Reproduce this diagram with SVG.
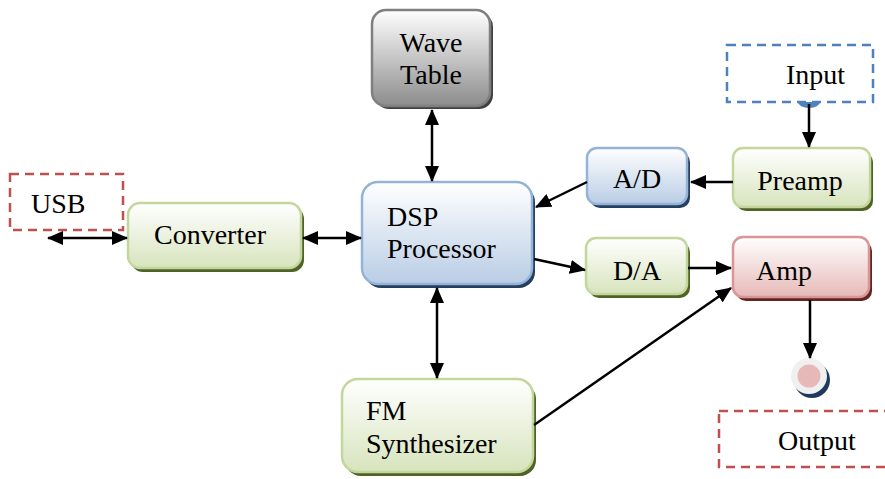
<svg xmlns="http://www.w3.org/2000/svg" width="885" height="479" viewBox="0 0 885 479">
<defs>
<linearGradient id="gGreen" x1="0" y1="0" x2="0" y2="1"><stop offset="0" stop-color="#ffffff"/><stop offset="1" stop-color="#d7e4bd"/></linearGradient>
<linearGradient id="gBlue" x1="0" y1="0" x2="0" y2="1"><stop offset="0" stop-color="#ffffff"/><stop offset="1" stop-color="#b9cde5"/></linearGradient>
<linearGradient id="gRed" x1="0" y1="0" x2="0" y2="1"><stop offset="0" stop-color="#ffffff"/><stop offset="1" stop-color="#e6b9b8"/></linearGradient>
<linearGradient id="gGray" x1="0" y1="0" x2="0" y2="1"><stop offset="0" stop-color="#ffffff"/><stop offset="1" stop-color="#8c8c8c"/></linearGradient>
<marker id="ahL" viewBox="0 0 16 14" refX="15" refY="7" markerWidth="16" markerHeight="14" markerUnits="userSpaceOnUse" orient="auto-start-reverse"><path d="M0,0 L16,7 L0,14 z" fill="#000"/></marker>
</defs>
<style>
.t{font-family:'Liberation Serif','Times New Roman','DejaVu Serif',serif;font-size:28px;fill:#000}
.green{fill:url(#gGreen);stroke:#c3d69b;stroke-width:2.5}
.greenS{fill:#4f6228}
.blue{fill:url(#gBlue);stroke:#95b3d7;stroke-width:2.5}
.blueS{fill:#243f60}
.red{fill:url(#gRed);stroke:#d99694;stroke-width:2.5}
.redS{fill:#632423}
.gray{fill:url(#gGray);stroke:#7f7f7f;stroke-width:2.5}
.grayS{fill:#404040}
.dashR{fill:none;stroke:#c0504d;stroke-width:2.5;stroke-dasharray:9,6}
.dashB{fill:none;stroke:#4f81bd;stroke-width:2.5;stroke-dasharray:9,6}
.conn{stroke:#000;stroke-width:2.5;fill:none}
</style>

<g id="usb">
<rect x="10" y="174" width="113" height="56" class="dashR"/>
<text class="t" x="31" y="213">USB</text>
</g>
<g id="input">
<rect x="727" y="45" width="146" height="57" class="dashB"/>
<path d="M798,102 A11,6 0 0 0 820,102 z" fill="#4f81bd"/>
<text class="t" x="786" y="84">Input</text>
</g>
<g id="output">
<rect x="719" y="411" width="175" height="56" class="dashR"/>
<text class="t" x="778" y="450">Output</text>
</g>
<g id="outjack">
<circle cx="812" cy="380" r="18" fill="#1f3b5c"/>
<circle cx="809" cy="376" r="18" fill="#f0f0f0"/>
<circle cx="809" cy="376" r="11.5" fill="#e6b9b8"/>
</g>

<g id="wavetable">
<rect x="375" y="13" width="118" height="96" rx="14" class="grayS"/>
<rect x="372" y="10" width="118" height="96" rx="14" class="gray"/>
<text class="t" x="431" y="52" text-anchor="middle">Wave</text>
<text class="t" x="431" y="84" text-anchor="middle">Table</text>
</g>
<g id="preamp">
<rect x="736" y="152" width="137" height="59" rx="10" class="greenS"/>
<rect x="733" y="148" width="137" height="59" rx="10" class="green"/>
<text class="t" x="800" y="190" text-anchor="middle">Preamp</text>
</g>
<g id="ad">
<rect x="590" y="152" width="100" height="56" rx="10" class="blueS"/>
<rect x="587" y="148" width="100" height="56" rx="10" class="blue"/>
<text class="t" x="637" y="188" text-anchor="middle">A/D</text>
</g>
<g id="converter">
<rect x="131" y="207" width="173" height="65" rx="12" class="greenS"/>
<rect x="128" y="203" width="173" height="65" rx="12" class="green"/>
<text class="t" x="210" y="244" text-anchor="middle">Converter</text>
</g>
<g id="dsp">
<rect x="365" y="186" width="170" height="102" rx="16" class="blueS"/>
<rect x="362" y="182" width="170" height="102" rx="16" class="blue"/>
<text class="t" x="387" y="226">DSP</text>
<text class="t" x="387" y="258">Processor</text>
</g>
<g id="da">
<rect x="589" y="242" width="101" height="56" rx="10" class="greenS"/>
<rect x="586" y="238" width="101" height="56" rx="10" class="green"/>
<text class="t" x="637" y="280" text-anchor="middle">D/A</text>
</g>
<g id="amp">
<rect x="736" y="241" width="136" height="60" rx="10" class="redS"/>
<rect x="733" y="237" width="136" height="60" rx="10" class="red"/>
<text class="t" x="756" y="280">Amp</text>
</g>
<g id="fm">
<rect x="345" y="383" width="191" height="93" rx="16" class="greenS"/>
<rect x="342" y="379" width="191" height="93" rx="16" class="green"/>
<text class="t" x="366" y="420">FM</text>
<text class="t" x="366" y="453">Synthesizer</text>
</g>

<g id="connectors">
<line x1="48" y1="238" x2="127" y2="238" class="conn" marker-start="url(#ahL)" marker-end="url(#ahL)"/>
<line x1="303" y1="238" x2="361" y2="238" class="conn" marker-start="url(#ahL)" marker-end="url(#ahL)"/>
<line x1="432" y1="110" x2="432" y2="181" class="conn" marker-start="url(#ahL)" marker-end="url(#ahL)"/>
<line x1="437" y1="288" x2="437" y2="378" class="conn" marker-start="url(#ahL)" marker-end="url(#ahL)"/>
<line x1="809" y1="104" x2="809" y2="147" class="conn" marker-end="url(#ahL)"/>
<line x1="733" y1="182" x2="691" y2="182" class="conn" marker-end="url(#ahL)"/>
<line x1="587" y1="182" x2="536" y2="207" class="conn" marker-end="url(#ahL)"/>
<line x1="534" y1="259" x2="585" y2="270" class="conn" marker-end="url(#ahL)"/>
<line x1="688" y1="268" x2="731" y2="268" class="conn" marker-end="url(#ahL)"/>
<line x1="534" y1="425" x2="731" y2="288" class="conn" marker-end="url(#ahL)"/>
<line x1="810" y1="300" x2="810" y2="358" class="conn" marker-end="url(#ahL)"/>
</g>
</svg>
